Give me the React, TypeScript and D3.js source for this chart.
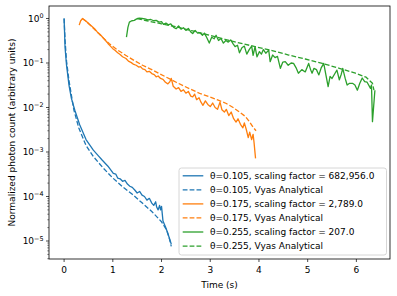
import React from 'react';
import * as d3 from 'd3';

type Pt = [number, number];

// theta = 0.105
const blueData: Pt[] = [
  [0, 1.0], [0.02, 2.2e-1], [0.05, 8.9e-2], [0.1, 3.2e-2], [0.15, 1.6e-2], [0.22, 8.7e-3],
  [0.32, 4.1e-3], [0.45, 1.9e-3], [0.6, 1.1e-3], [0.7, 8.3e-4], [0.78, 6.6e-4], [0.9, 4.8e-4],
  [1.01, 3.3e-4], [1.06, 3.2e-4], [1.1, 2.6e-4], [1.15, 2.5e-4], [1.2, 2.2e-4], [1.25, 2.3e-4],
  [1.3, 1.9e-4], [1.35, 1.7e-4], [1.4, 1.6e-4], [1.45, 1.4e-4], [1.5, 1.2e-4], [1.55, 1.3e-4],
  [1.6, 1.07e-4], [1.65, 1.0e-4], [1.7, 8.3e-5], [1.75, 9.1e-5], [1.8, 7.1e-5], [1.84, 6.3e-5],
  [1.88, 7.6e-5], [1.9, 5.8e-5], [1.93, 5.0e-5], [1.96, 6.3e-5], [1.98, 5.0e-5], [2.0, 6.0e-5],
  [2.03, 2.8e-5], [2.08, 2.1e-5], [2.12, 1.6e-5], [2.15, 1.26e-5], [2.18, 1.0e-5], [2.2, 8.5e-6],
];
const blueModel: Pt[] = [
  [0, 1.0], [0.02, 3.2e-1], [0.05, 1.1e-1], [0.1, 4.0e-2], [0.2, 8.9e-3], [0.3, 3.5e-3],
  [0.45, 1.4e-3], [0.6, 7.9e-4], [0.8, 4.4e-4], [1.0, 2.6e-4], [1.2, 1.66e-4], [1.4, 1.12e-4],
  [1.6, 7.2e-5], [1.8, 4.6e-5], [2.0, 2.7e-5], [2.1, 1.8e-5], [2.15, 1.26e-5], [2.2, 7.6e-6],
];

// theta = 0.175
const orangeData: Pt[] = [
  [0.31, 0.71], [0.34, 0.89], [0.38, 1.0], [0.42, 0.93], [0.47, 0.83], [0.52, 0.74], [0.58, 0.65],
  [0.63, 0.58], [0.68, 0.5], [0.74, 0.44], [0.79, 0.38], [0.85, 0.32], [0.9, 0.275], [0.95, 0.24],
  [1.0, 0.21], [1.05, 0.19], [1.1, 0.17], [1.15, 0.155], [1.2, 0.138], [1.27, 0.126], [1.32, 0.11],
  [1.38, 0.102], [1.43, 0.093], [1.48, 0.089], [1.53, 0.081], [1.57, 0.083], [1.61, 0.074],
  [1.66, 0.071], [1.7, 0.063], [1.75, 0.065], [1.8, 0.058], [1.85, 0.055], [1.89, 0.049],
  [1.93, 0.051], [1.98, 0.045], [2.03, 0.043], [2.08, 0.037], [2.13, 0.034], [2.17, 0.038],
  [2.2, 0.045], [2.24, 0.03], [2.3, 0.026], [2.35, 0.028], [2.4, 0.023], [2.45, 0.025],
  [2.5, 0.021], [2.55, 0.023], [2.6, 0.018], [2.64, 0.0174], [2.68, 0.02], [2.72, 0.015],
  [2.77, 0.0166], [2.81, 0.0132], [2.85, 0.0112], [2.9, 0.0141], [2.95, 0.0117], [3.0, 0.0105],
  [3.05, 0.0126], [3.1, 0.01], [3.15, 0.0091], [3.2, 0.0132], [3.24, 0.0089], [3.29, 0.0079],
  [3.33, 0.0091], [3.38, 0.0066], [3.43, 0.0079], [3.48, 0.0056], [3.53, 0.0047], [3.57, 0.0056],
  [3.62, 0.0042], [3.67, 0.0035], [3.7, 0.0045], [3.74, 0.0032], [3.78, 0.0021], [3.81, 0.0028],
  [3.85, 0.0019], [3.88, 0.0025], [3.9, 0.0016], [3.93, 0.00072],
];
const orangeModel: Pt[] = [
  [0.37, 1.0], [0.45, 0.87], [0.55, 0.69], [0.7, 0.47], [0.93, 0.27], [1.1, 0.195], [1.27, 0.148],
  [1.45, 0.112], [1.61, 0.089], [1.8, 0.071], [1.95, 0.058], [2.1, 0.048], [2.3, 0.037],
  [2.47, 0.03], [2.64, 0.0245], [2.8, 0.0204], [2.98, 0.0174], [3.15, 0.0148], [3.33, 0.0123],
  [3.47, 0.01], [3.6, 0.0079], [3.72, 0.0063], [3.81, 0.0047], [3.88, 0.0036], [3.94, 0.003],
];

// theta = 0.255
const greenData: Pt[] = [
  [1.28, 0.38], [1.31, 0.63], [1.34, 0.83], [1.39, 0.89], [1.44, 0.91], [1.49, 0.98], [1.54, 1.02],
  [1.6, 1.0], [1.66, 0.98], [1.72, 0.93], [1.78, 0.95], [1.84, 0.89], [1.89, 0.91], [1.95, 0.83],
  [2.0, 0.85], [2.04, 0.74], [2.09, 0.79], [2.14, 0.72], [2.19, 0.76], [2.25, 0.63], [2.3, 0.59],
  [2.35, 0.68], [2.4, 0.575], [2.45, 0.62], [2.5, 0.54], [2.55, 0.6], [2.6, 0.5], [2.64, 0.46],
  [2.69, 0.54], [2.74, 0.47], [2.79, 0.48], [2.84, 0.42], [2.88, 0.47], [2.93, 0.37], [2.98, 0.28],
  [3.03, 0.38], [3.08, 0.35], [3.12, 0.42], [3.17, 0.32], [3.22, 0.355], [3.27, 0.28], [3.32, 0.32],
  [3.37, 0.295], [3.42, 0.33], [3.47, 0.27], [3.51, 0.234], [3.56, 0.25], [3.6, 0.17], [3.65, 0.22],
  [3.7, 0.24], [3.75, 0.158], [3.8, 0.2], [3.85, 0.24], [3.88, 0.148], [3.92, 0.234], [3.96, 0.138],
  [4.01, 0.18], [4.05, 0.158], [4.09, 0.2], [4.14, 0.166], [4.2, 0.195], [4.23, 0.107], [4.28, 0.151],
  [4.33, 0.132], [4.38, 0.141], [4.44, 0.076], [4.49, 0.105], [4.54, 0.107], [4.6, 0.089],
  [4.66, 0.1], [4.71, 0.098], [4.76, 0.079], [4.81, 0.059], [4.88, 0.071], [4.95, 0.063],
  [5.02, 0.098], [5.06, 0.071], [5.09, 0.059], [5.13, 0.076], [5.18, 0.071], [5.23, 0.054],
  [5.28, 0.079], [5.33, 0.098], [5.38, 0.05], [5.42, 0.0295], [5.46, 0.05], [5.5, 0.045],
  [5.55, 0.056], [5.6, 0.069], [5.65, 0.042], [5.69, 0.056], [5.72, 0.076], [5.77, 0.045],
  [5.81, 0.032], [5.86, 0.035], [5.92, 0.035], [5.97, 0.032], [6.02, 0.0245], [6.07, 0.035],
  [6.12, 0.046], [6.17, 0.038], [6.22, 0.037], [6.29, 0.027], [6.31, 0.032], [6.33, 0.0048],
  [6.38, 0.0245],
];
const greenModel: Pt[] = [
  [1.5, 1.0], [1.7, 0.89], [2.0, 0.76], [2.3, 0.65], [2.64, 0.525], [2.98, 0.42], [3.3, 0.34],
  [3.67, 0.27], [3.92, 0.234], [4.27, 0.19], [4.61, 0.151], [4.95, 0.123], [5.3, 0.098],
  [5.65, 0.076], [5.98, 0.059], [6.2, 0.048], [6.33, 0.035], [6.36, 0.0245],
];

const legendLabels = [
  'θ=0.105, scaling factor = 682,956.0',
  'θ=0.105, Vyas Analytical',
  'θ=0.175, scaling factor = 2,789.0',
  'θ=0.175, Vyas Analytical',
  'θ=0.255, scaling factor = 207.0',
  'θ=0.255, Vyas Analytical',
];
const xTicks = [0, 1, 2, 3, 4, 5, 6];
const yExponents = [0, -1, -2, -3, -4, -5];

const W = 397, H = 296;
const box = { left: 49, right: 390, top: 6, bottom: 259 };
const font = 'DejaVu Sans, sans-serif';
const lw = 1.3;
const dash = '4.8,2.1';

export default function App() {
  const x = d3.scaleLinear().domain([-0.31, 6.69]).range([box.left, box.right]);
  const y = d3.scaleLog().domain([3.94e-6, 1.91]).range([box.bottom, box.top]);
  const line = d3.line<Pt>().x(d => x(d[0])).y(d => y(d[1]));

  const series = [
    { data: blueData, color: '#1f77b4', dashed: false },
    { data: blueModel, color: '#1f77b4', dashed: true },
    { data: orangeData, color: '#ff7f0e', dashed: false },
    { data: orangeModel, color: '#ff7f0e', dashed: true },
    { data: greenData, color: '#2ca02c', dashed: false },
    { data: greenModel, color: '#2ca02c', dashed: true },
  ];

  // minor ticks 2..9 per decade inside the visible range
  const minor: number[] = [];
  for (let e = -6; e <= 0; e++) {
    for (let m = 2; m <= 9; m++) {
      const v = m * Math.pow(10, e);
      if (v >= 3.94e-6 && v <= 1.91) minor.push(v);
    }
  }

  const lg = { x: 179, y: 168, w: 207.5, h: 87, row0: 175.8, step: 14.05 };

  return (
    <svg width={W} height={H} style={{ position: 'absolute', left: 0, top: 0, background: '#fff' }}
      fontFamily={font}>
      <rect width={W} height={H} fill="#fff" />
      {series.map((s, i) => (
        <path key={i} d={line(s.data) || ''} fill="none" stroke={s.color} strokeWidth={lw}
          strokeDasharray={s.dashed ? dash : undefined} strokeLinejoin="round" />
      ))}

      {/* spines */}
      <rect x={box.left} y={box.top} width={box.right - box.left} height={box.bottom - box.top}
        fill="none" stroke="#000" strokeWidth={0.8} />

      {/* x axis */}
      {xTicks.map(t => (
        <g key={t}>
          <line x1={x(t)} x2={x(t)} y1={box.bottom} y2={box.bottom + 3} stroke="#000" strokeWidth={0.7} />
          <text x={x(t)} y={box.bottom + 13.5} fontSize={9} textAnchor="middle">{t}</text>
        </g>
      ))}
      <text x={(box.left + box.right) / 2} y={288} fontSize={9} textAnchor="middle">Time (s)</text>

      {/* y axis */}
      {minor.map((v, i) => (
        <line key={i} x1={box.left - 1.7} x2={box.left} y1={y(v)} y2={y(v)} stroke="#000" strokeWidth={0.5} />
      ))}
      {yExponents.map(e => {
        const v = Math.pow(10, e);
        return (
          <g key={e}>
            <line x1={box.left - 3} x2={box.left} y1={y(v)} y2={y(v)} stroke="#000" strokeWidth={0.7} />
            <text x={box.left - 5.5} y={y(v) + 3.3} fontSize={9} textAnchor="end">
              <tspan>10</tspan>
              <tspan dy={-3.8} fontSize={6.4}>{e === 0 ? '0' : '−' + Math.abs(e)}</tspan>
            </text>
          </g>
        );
      })}
      <text transform={`translate(14.5,${(box.top + box.bottom) / 2}) rotate(-90)`} fontSize={9}
        textAnchor="middle">Normalized photon count (arbitrary units)</text>

      {/* legend */}
      <rect x={lg.x} y={lg.y} width={lg.w} height={lg.h} rx={2.5} fill="#fff" fillOpacity={0.8}
        stroke="#cccccc" strokeWidth={0.8} />
      {series.map((s, i) => {
        const cy = lg.row0 + i * lg.step;
        return (
          <g key={i}>
            <line x1={182.7} x2={203.3} y1={cy} y2={cy} stroke={s.color} strokeWidth={lw}
              strokeDasharray={s.dashed ? dash : undefined} />
            <text x={210} y={cy + 3.2} fontSize={9}>{legendLabels[i]}</text>
          </g>
        );
      })}
    </svg>
  );
}
